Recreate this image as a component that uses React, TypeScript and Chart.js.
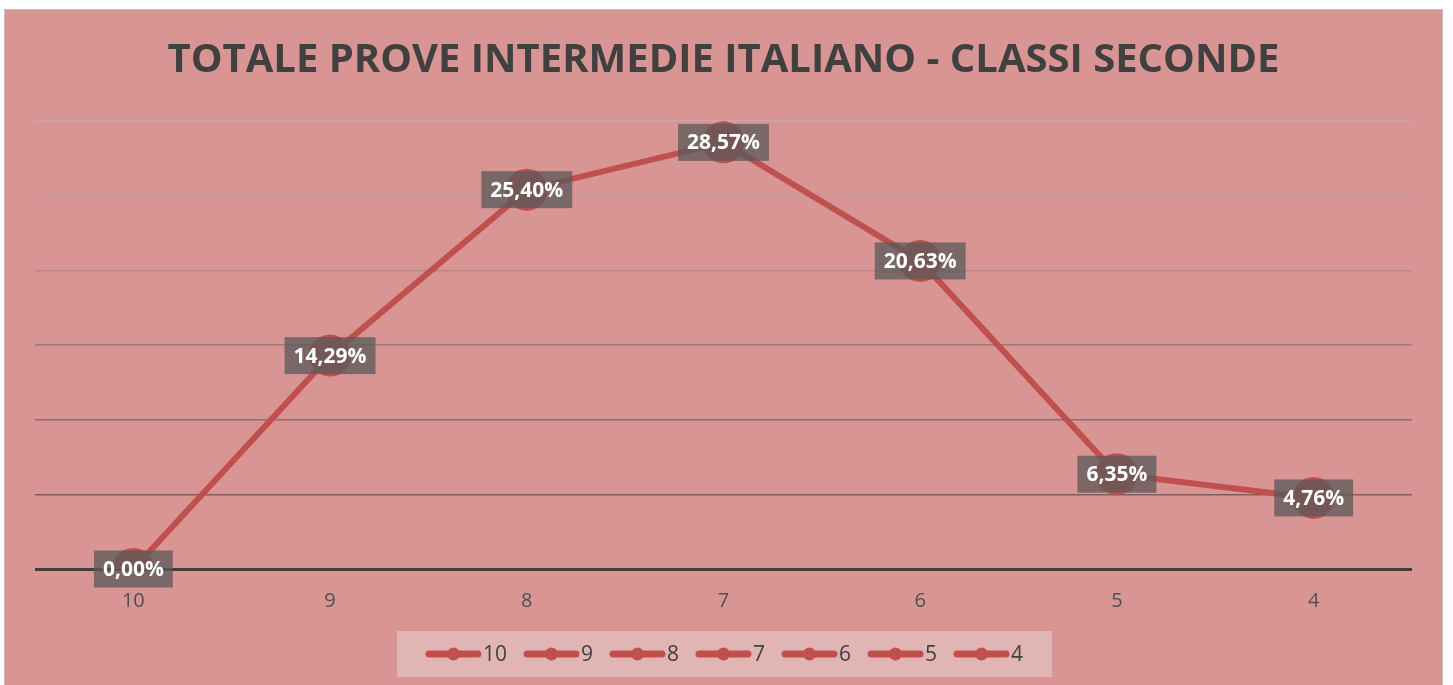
import React, { useEffect, useRef } from "react";
import { Chart, registerables } from "chart.js";

Chart.register(...registerables);

const title = "TOTALE PROVE INTERMEDIE ITALIANO - CLASSI SECONDE";
const categories = ["10", "9", "8", "7", "6", "5", "4"];
const values = [0, 14.29, 25.4, 28.57, 20.63, 6.35, 4.76];
const yMin = 0;
const yMax = 30;
const yStep = 5;

const RED = "#C0504D";
const BG = "#D99594";
const FONT = "'Open Sans', 'DejaVu Sans', sans-serif";
const gridColors = ["#404040", "#7C6060", "#8E6E6E", "#9E7B7B", "#B08A8A", "#C09B9B", "#CBA6A6"];

const fmt = (v: number) => v.toFixed(2).replace(".", ",") + "%";

const overlayPlugin = {
  id: "overlay",
  afterDatasetsDraw(chart: any) {
    const ctx = chart.ctx as CanvasRenderingContext2D;
    const meta = chart.getDatasetMeta(0);
    ctx.save();
    ctx.font = `bold 21px ${FONT}`;
    ctx.textAlign = "center";
    ctx.textBaseline = "middle";
    meta.data.forEach((pt: any, i: number) => {
      const txt = fmt(values[i]);
      const w = ctx.measureText(txt).width + 18;
      const h = 37;
      ctx.fillStyle = "rgba(89,89,89,0.75)";
      ctx.fillRect(pt.x - w / 2, pt.y - h / 2, w, h);
      ctx.fillStyle = "#FFFFFF";
      ctx.fillText(txt, pt.x, pt.y + 1);
    });
    ctx.restore();
  },
  afterDraw(chart: any) {
    const ctx = chart.ctx as CanvasRenderingContext2D;
    const W = chart.width;
    ctx.save();
    // title
    ctx.font = `bold 40px ${FONT}`;
    ctx.fillStyle = "#404040";
    ctx.textAlign = "center";
    ctx.textBaseline = "middle";
    ctx.fillText(title, W / 2, 51);

    // legend
    const boxX = 392, boxY = 621, boxW = 655, boxH = 46;
    ctx.fillStyle = "#E2B5B5";
    ctx.fillRect(boxX, boxY, boxW, boxH);
    ctx.font = `21px ${FONT}`;
    const lineLen = 55, gap = 2, spacing = 17;
    const widths = categories.map((c) => lineLen + gap + ctx.measureText(c).width);
    const total = widths.reduce((a, b) => a + b, 0) + spacing * (categories.length - 1);
    let x = boxX + (boxW - total) / 2;
    const cy = boxY + boxH / 2;
    categories.forEach((c, i) => {
      ctx.strokeStyle = RED;
      ctx.lineWidth = 7;
      ctx.lineCap = "round";
      ctx.beginPath();
      ctx.moveTo(x + 3, cy);
      ctx.lineTo(x + lineLen - 3, cy);
      ctx.stroke();
      ctx.fillStyle = RED;
      ctx.beginPath();
      ctx.arc(x + lineLen / 2, cy, 6.5, 0, Math.PI * 2);
      ctx.fill();
      ctx.fillStyle = "#404040";
      ctx.textAlign = "left";
      ctx.textBaseline = "middle";
      ctx.fillText(c, x + lineLen + gap, cy + 1);
      x += widths[i] + spacing;
    });
    ctx.restore();
  },
};

export default function App() {
  const ref = useRef<HTMLCanvasElement>(null);
  useEffect(() => {
    if (!ref.current) return;
    const chart = new Chart(ref.current, {
      type: "line",
      data: {
        labels: categories,
        datasets: [
          {
            data: values,
            borderColor: RED,
            backgroundColor: RED,
            borderWidth: 6,
            pointRadius: 21,
            pointBorderWidth: 0,
            pointBackgroundColor: RED,
            tension: 0,
          },
        ],
      },
      options: {
        animation: false,
        responsive: false,
        maintainAspectRatio: false,
        layout: { padding: { left: 30, right: 30, top: 111, bottom: 52 } },
        plugins: {
          legend: { display: false },
          title: { display: false },
          tooltip: { enabled: false },
        },
        scales: {
          x: {
            offset: true,
            grid: { display: false, drawTicks: false },
            border: { display: false },
            ticks: {
              color: "#505050",
              font: { family: FONT, size: 20 },
              padding: 20,
            },
          },
          y: {
            min: yMin,
            max: yMax,
            ticks: { stepSize: yStep, display: false },
            border: { display: false },
            grid: {
              drawTicks: false,
              color: (c: any) => gridColors[c.index] ?? "#999",
              lineWidth: (c: any) => (c.index === 0 ? 3 : 1.5),
            },
          },
        },
      },
      plugins: [overlayPlugin],
    });
    return () => chart.destroy();
  }, []);

  return (
    <div style={{ position: "fixed", left: 0, top: 0, width: 1453, height: 685, background: "#fff", overflow: "hidden" }}>
      <div
        style={{
          position: "absolute",
          left: 4,
          top: 9,
          width: 1439,
          height: 700,
          boxSizing: "border-box",
          border: "1px solid #BFBFBF",
          background: BG,
        }}
      >
        <canvas ref={ref} width={1437} height={675} style={{ display: "block", width: 1437, height: 675 }} />
      </div>
    </div>
  );
}
